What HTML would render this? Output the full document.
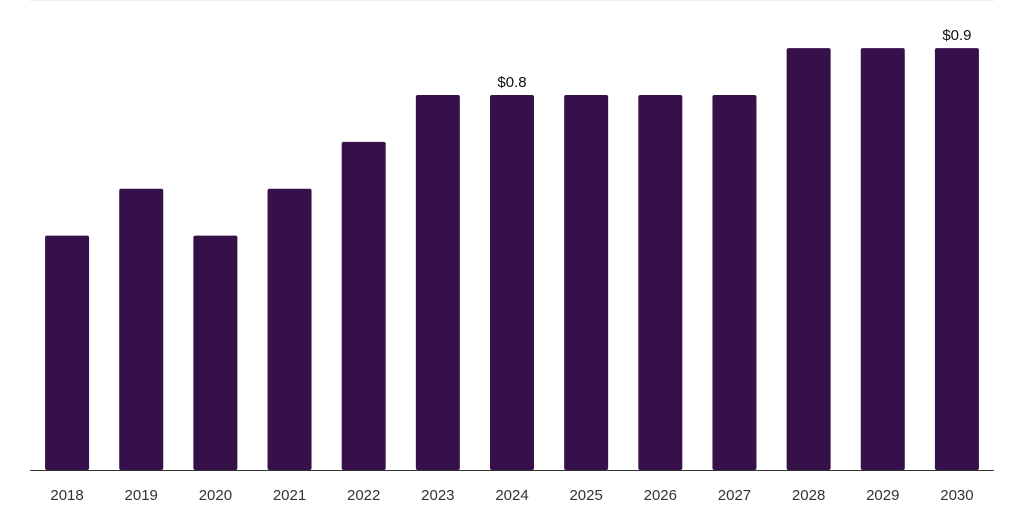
<!DOCTYPE html>
<html><head><meta charset="utf-8"><style>
html,body{margin:0;padding:0;background:#fff;}
svg{display:block;font-family:"Liberation Sans",sans-serif;}
</style></head><body>
<svg id="chart" width="1024" height="512">
<line x1="30" y1="0.5" x2="994" y2="0.5" stroke="#eeeeee"/>
<g id="bars"></g>
<line x1="30" y1="470.5" x2="994" y2="470.5" stroke="#333"/>
</svg>
<script>
const categories = ["2018","2019","2020","2021","2022","2023","2024","2025","2026","2027","2028","2029","2030"];
const values = [0.5,0.6,0.5,0.6,0.7,0.8,0.8,0.8,0.8,0.8,0.9,0.9,0.9];
const valueLabels = ["","","","","","","$0.8","","","","","","$0.9"];
const ns="http://www.w3.org/2000/svg";
const g=document.getElementById('bars');
const x0=30,x1=994,base=470,perUnit=468.75;
const band=(x1-x0)/categories.length, bw=44;
const xs=i=>x0+band*i+band/2;
const ys=v=>base-v*perUnit;
categories.forEach((c,i)=>{
  const r=document.createElementNS(ns,'rect');
  r.setAttribute('x',xs(i)-bw/2);r.setAttribute('y',ys(values[i]));
  r.setAttribute('width',bw);r.setAttribute('height',base-ys(values[i]));
  r.setAttribute('rx',2);r.setAttribute('fill','#361149');
  
  
  g.appendChild(r);
  const t=document.createElementNS(ns,'text');
  t.setAttribute('x',xs(i));t.setAttribute('y',500);t.setAttribute('text-anchor','middle');
  t.setAttribute('font-size','15');t.setAttribute('fill','#333');t.textContent=c;
  
  
  g.appendChild(t);
  if(valueLabels[i]){
    const l=document.createElementNS(ns,'text');
    l.setAttribute('x',xs(i));l.setAttribute('y',ys(values[i])-8);l.setAttribute('text-anchor','middle');
    l.setAttribute('font-size','15');l.setAttribute('fill','#111');l.textContent=valueLabels[i];
    
    
    g.appendChild(l);
  }
});
</script>
</body></html>
